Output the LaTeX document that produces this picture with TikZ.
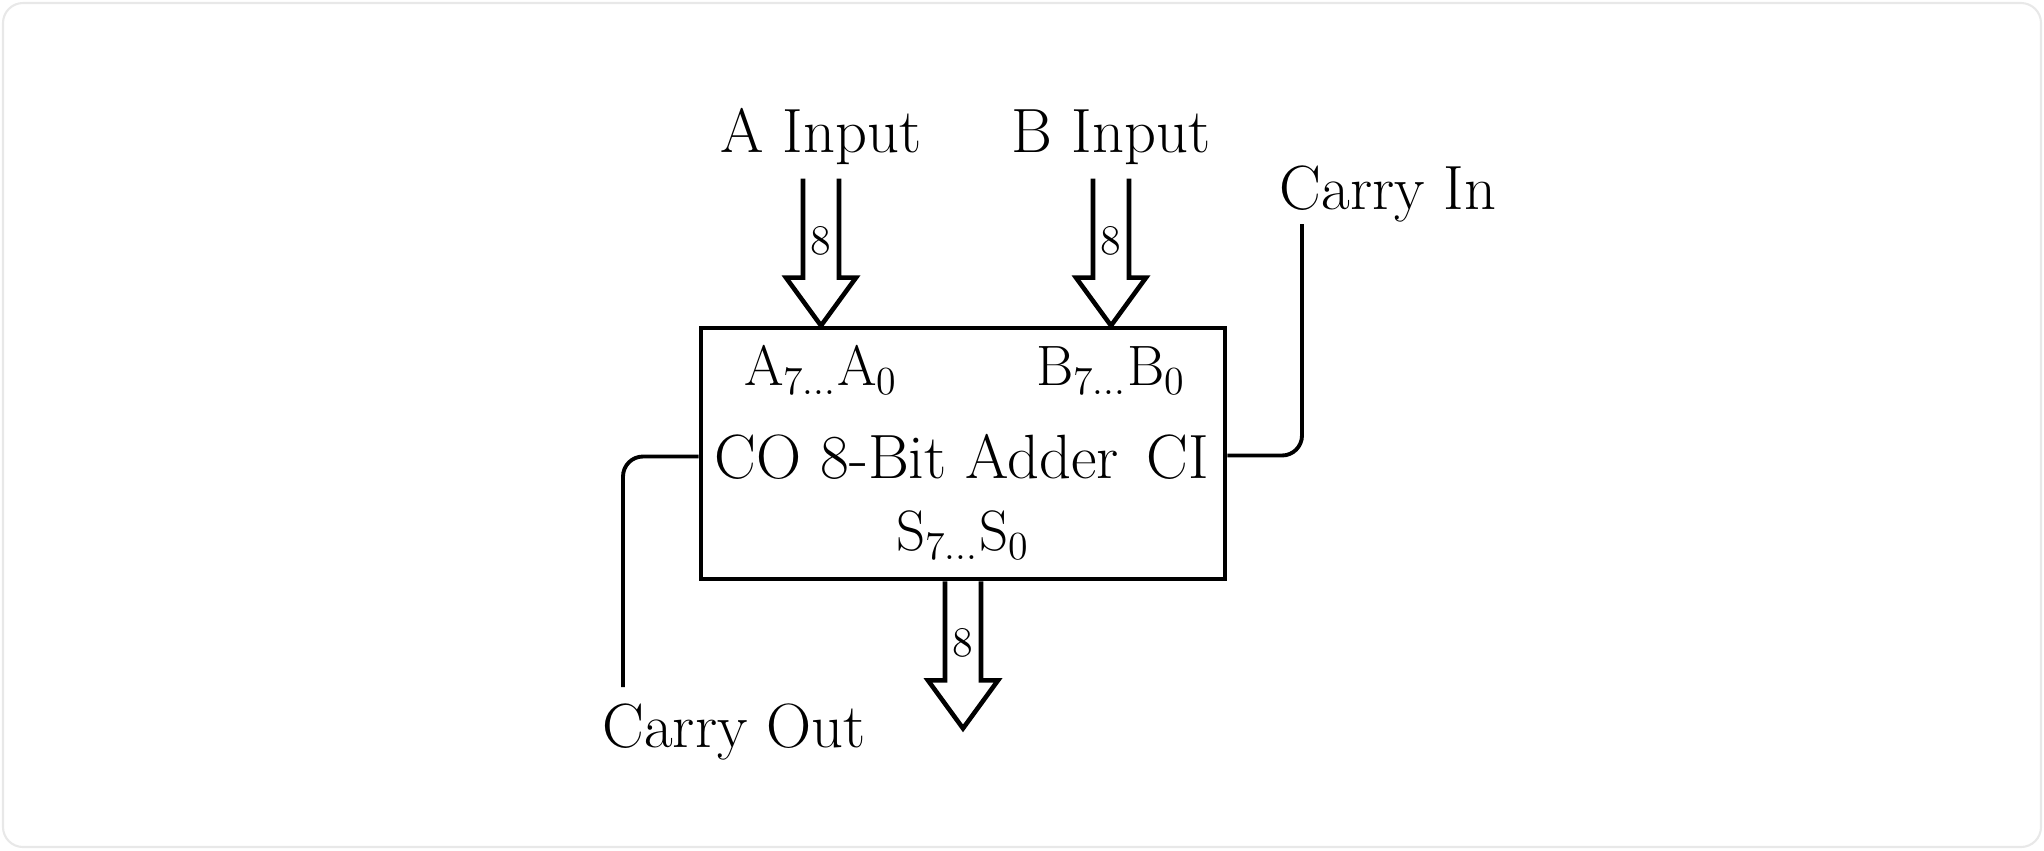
\documentclass[tikz,border=0pt]{standalone}
\usepackage{tikz}
\usetikzlibrary{calc}

\tikzset{
  adder/.style={draw, line width=1.35pt, minimum width=52.4mm, minimum height=25.1mm, inner sep=0pt},
  txt/.style={font=\fontsize{17.8}{21}\selectfont, inner sep=0pt},
  pinlbl/.style={font=\fontsize{16.2}{19}\selectfont, inner sep=0pt},
  buswidth/.style={font=\fontsize{12}{14}\selectfont, inner sep=0pt},
  wire/.style={line width=1.1pt, rounded corners=2mm},
  frame/.style={draw=black!9, line width=0.6pt, rounded corners=2mm},
  bus/.pic={
    \draw[line width=1.3pt, line join=miter] (-18,-147) -- (-18,-48) -- (-35,-48) -- (0,0) -- (35,-48) -- (18,-48) -- (18,-147);
    \node[buswidth] (-w) at (0,-85) {8};
  }
}

\begin{document}
\begin{tikzpicture}[x=0.1mm, y=-0.1mm]
\useasboundingbox (0,0) rectangle (2044,850);
\draw[frame] (3,3) rectangle (2041,847);

\node[adder] (add) at (963,453.5) {};
\node[txt, anchor=base west] (colbl) at (714,478) {CO 8-Bit Adder};
\node[txt, anchor=base east] (cilbl) at (1210,478) {CI};
\node[pinlbl, anchor=base] (apins) at (821,385) {A\textsubscript{7...}A\textsubscript{0}};
\node[pinlbl, anchor=base] (bpins) at (1111,385) {B\textsubscript{7...}B\textsubscript{0}};
\node[pinlbl, anchor=base] (spins) at (963,550) {S\textsubscript{7...}S\textsubscript{0}};

\node[txt, anchor=base] (ain) at (821,152) {A Input};
\node[txt, anchor=base] (bin) at (1111,152) {B Input};
\node[txt, anchor=base] (cin) at (1388,209) {Carry In};
\node[txt, anchor=base] (cout) at (734,747) {Carry Out};

\pic (abus) at (add.north -| ain) {bus};
\pic (bbus) at (add.north -| bin) {bus};
\pic (sbus) at ($(add.south)+(0,147)$) {bus};

\coordinate (cinend) at (1302,224);
\coordinate (coutend) at (623,687);
\draw[wire] ($(add.east)+(0,2)$) -| (cinend);
\draw[wire] ($(add.west)+(0,3)$) -| (coutend);
\end{tikzpicture}
\end{document}
